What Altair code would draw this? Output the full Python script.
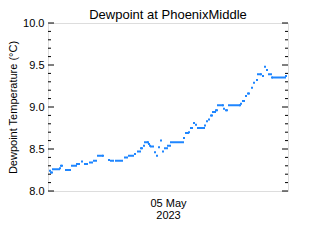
import altair as alt
import pandas as pd

# minutes after 2023-05-04 12:00 UTC
minutes = [12, 18, 24, 30, 42, 54, 66, 72, 78, 84,
           108, 120, 132, 144, 156, 168, 174, 186, 204, 222,
           234, 252, 264, 276, 288, 300, 312, 324, 330, 366,
           378, 390, 408, 420, 432, 444, 462, 474, 486, 498,
           510, 522, 540, 552, 558, 564, 576, 582, 594, 600,
           606, 612, 618, 630, 642, 654, 666, 678, 690, 702,
           714, 720, 732, 738, 750, 762, 774, 786, 798, 810,
           816, 828, 840, 846, 858, 864, 876, 888, 900, 912,
           924, 936, 942, 954, 966, 978, 984, 990, 1002, 1008,
           1014, 1020, 1032, 1044, 1050, 1056, 1068, 1074, 1086, 1098,
           1110, 1122, 1134, 1146, 1152, 1158, 1170, 1176, 1188, 1200,
           1206, 1224, 1236, 1254, 1260, 1272, 1278, 1290, 1302, 1314,
           1326, 1338, 1344, 1350, 1362, 1374, 1386, 1398, 1410, 1422,
           1428]

dewpoint = [8.24, 8.22, 8.22, 8.26, 8.26, 8.26, 8.26, 8.27, 8.30, 8.30,
            8.25, 8.25, 8.25, 8.30, 8.30, 8.30, 8.32, 8.32, 8.35, 8.32,
            8.32, 8.34, 8.34, 8.36, 8.36, 8.42, 8.42, 8.42, 8.42, 8.37,
            8.36, 8.36, 8.36, 8.36, 8.36, 8.36, 8.40, 8.40, 8.42, 8.42,
            8.42, 8.44, 8.47, 8.47, 8.51, 8.51, 8.54, 8.58, 8.58, 8.58,
            8.56, 8.54, 8.53, 8.53, 8.46, 8.42, 8.52, 8.60, 8.47, 8.51,
            8.51, 8.54, 8.54, 8.58, 8.58, 8.58, 8.58, 8.58, 8.58, 8.58,
            8.63, 8.69, 8.69, 8.70, 8.75, 8.75, 8.81, 8.79, 8.75, 8.75,
            8.75, 8.75, 8.78, 8.83, 8.85, 8.90, 8.90, 8.94, 8.94, 8.96,
            8.96, 9.02, 9.02, 9.02, 9.02, 8.98, 8.96, 8.96, 9.02, 9.02,
            9.02, 9.02, 9.02, 9.02, 9.02, 9.04, 9.07, 9.07, 9.13, 9.16,
            9.16, 9.23, 9.29, 9.32, 9.39, 9.39, 9.39, 9.37, 9.48, 9.44,
            9.39, 9.39, 9.35, 9.35, 9.35, 9.35, 9.35, 9.35, 9.35, 9.35,
            9.37]

major_ticks = [8.0, 8.5, 9.0, 9.5, 10.0]
minor_ticks = [8.1, 8.2, 8.3, 8.4, 8.6, 8.7, 8.8, 8.9,
               9.1, 9.2, 9.3, 9.4, 9.6, 9.7, 9.8, 9.9]
x_domain = ["2023-05-04T12:00:00Z", "2023-05-05T12:00:00Z"]
x_tick = ["2023-05-05T00:00:00Z"]

start = pd.Timestamp("2023-05-04T12:00:00Z")
df = pd.DataFrame({
    "time": [(start + pd.Timedelta(minutes=m)).strftime("%Y-%m-%dT%H:%M:%SZ") for m in minutes],
    "dew": dewpoint,
})
FONT = "Liberation Sans"
COLOR = "#1f86ff"

yscale = alt.Scale(domain=[8.0, 10.0], nice=False, zero=False)
xscale = alt.Scale(type="utc", domain=x_domain, nice=False)
x_tick_ms = [int(pd.Timestamp(t).value // 10**6) for t in x_tick]

points = alt.Chart(df).mark_square(size=4, color=COLOR, opacity=1).encode(
    x=alt.X("time:T", scale=xscale,
            axis=alt.Axis(values=x_tick_ms, title=None, ticks=False, domain=False, grid=False,
                          labelExpr="[utcFormat(datum.value, '%d %b'), utcFormat(datum.value, '%Y')]",
                          labelFont=FONT, labelFontSize=11, labelColor="black",
                          labelPadding=6, labelLineHeight=12)),
    y=alt.Y("dew:Q", scale=yscale,
            axis=alt.Axis(values=major_ticks, format=".1f", ticks=False, domain=False, grid=False,
                          title="Dewpoint Temperature (°C)", titleFont=FONT, titleFontSize=11,
                          titleFontWeight="normal", titleColor="black", titlePadding=4,
                          labelFont=FONT, labelFontSize=11, labelColor="black", labelPadding=4)),
)

maj = pd.DataFrame({"v": major_ticks})
mino = pd.DataFrame({"v": minor_ticks})
W = 240
ticks = alt.layer(
    alt.Chart(maj).mark_rule(color="black", strokeWidth=1).encode(
        y=alt.Y("v:Q", scale=yscale), x=alt.value(0), x2=alt.value(6)),
    alt.Chart(maj).mark_rule(color="black", strokeWidth=1).encode(
        y=alt.Y("v:Q", scale=yscale), x=alt.value(W - 6), x2=alt.value(W)),
    alt.Chart(mino).mark_rule(color="black", strokeWidth=1).encode(
        y=alt.Y("v:Q", scale=yscale), x=alt.value(0), x2=alt.value(3)),
    alt.Chart(mino).mark_rule(color="black", strokeWidth=1).encode(
        y=alt.Y("v:Q", scale=yscale), x=alt.value(W - 3), x2=alt.value(W)),
)

chart = alt.layer(points, ticks).properties(
    width=W, height=168,
    title=alt.TitleParams("Dewpoint at PhoenixMiddle", font=FONT, fontSize=13,
                          fontWeight="normal", color="black", anchor="middle", offset=0, dy=5),
    autosize=alt.AutoSizeParams(type="none"),
    padding={"left": 48, "top": 23, "right": 32, "bottom": 49},
).configure_view(stroke="black", strokeWidth=1).configure(background="white")

chart.save("out.html", embed_options={"renderer": "svg", "actions": False})
